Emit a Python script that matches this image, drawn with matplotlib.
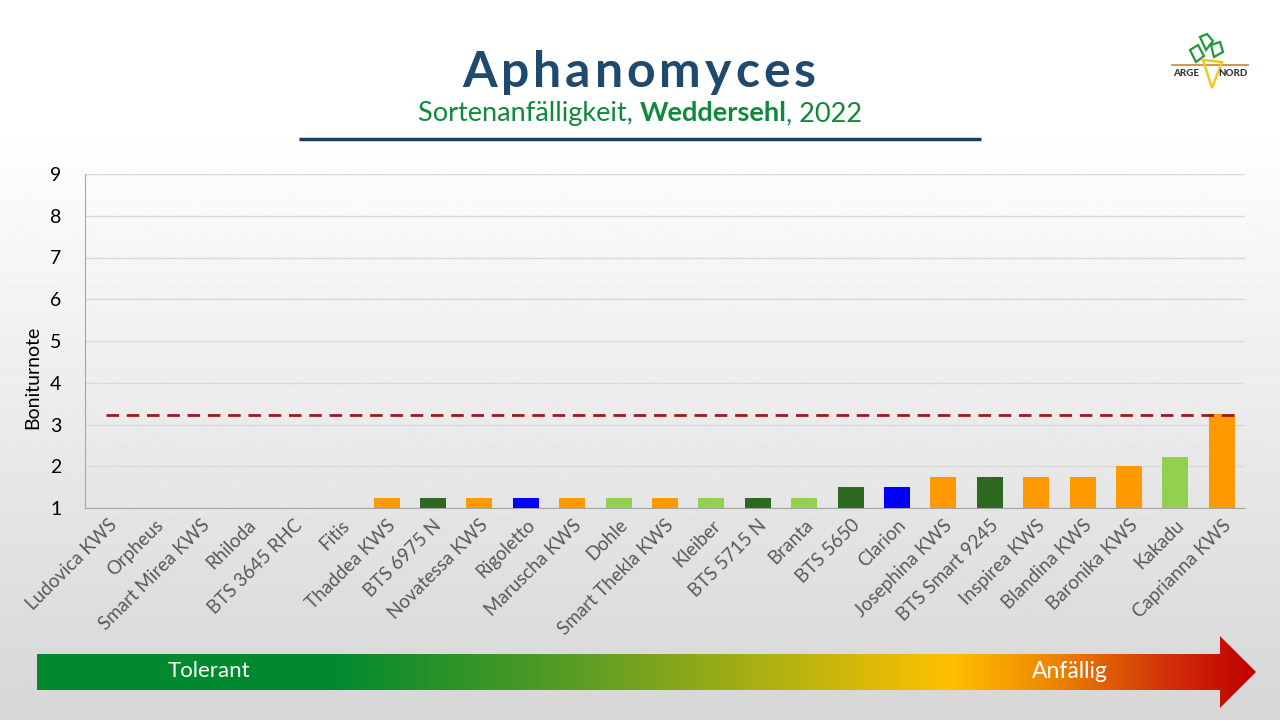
import numpy as np
import matplotlib.pyplot as plt
from matplotlib.colors import LinearSegmentedColormap
from matplotlib.patches import Polygon

# Daten
sorten = ['Ludovica KWS', 'Orpheus', 'Smart Mirea KWS', 'Rhiloda', 'BTS 3645 RHC',
          'Fitis', 'Thaddea KWS', 'BTS 6975 N', 'Novatessa KWS', 'Rigoletto',
          'Maruscha KWS', 'Dohle', 'Smart Thekla KWS', 'Kleiber', 'BTS 5715 N',
          'Branta', 'BTS 5650', 'Clarion', 'Josephina KWS', 'BTS Smart 9245',
          'Inspirea KWS', 'Blandina KWS', 'Baronika KWS', 'Kakadu', 'Caprianna KWS']
boniturnote = [1, 1, 1, 1, 1, 1, 1.25, 1.25, 1.25, 1.25, 1.25, 1.25, 1.25, 1.25,
               1.25, 1.25, 1.5, 1.5, 1.75, 1.75, 1.75, 1.75, 2.0, 2.23, 3.25]
zuechter = ['KWS', 'Strube', 'KWS', 'SES', 'Betaseed', 'Strube', 'KWS', 'Betaseed',
            'KWS', 'SES', 'KWS', 'Strube', 'KWS', 'Strube', 'Betaseed', 'Strube',
            'Betaseed', 'SES', 'KWS', 'Betaseed', 'KWS', 'KWS', 'KWS', 'Strube', 'KWS']
schwelle = 3.23
yticks = list(range(1, 10))

farbe_zuechter = {'KWS': '#FF9900', 'Betaseed': '#2D6A1F', 'SES': '#0000FF', 'Strube': '#92D050'}
farben = [farbe_zuechter[z] for z in zuechter]

W, H = 1280, 720
fig = plt.figure(figsize=(12.8, 7.2), dpi=100)
plt.rcParams['font.family'] = ['Lato', 'DejaVu Sans']

# Hintergrund + Deko in Pixelkoordinaten
bg = fig.add_axes([0, 0, 1, 1])
bg.set_xlim(0, W)
bg.set_ylim(H, 0)
bg.axis('off')
yy = np.linspace(0, 1, 300)
grau = np.where(yy < 0.17, 1.0, 1.0 - (yy - 0.17) / 0.83 * 0.16)
bg.imshow(np.tile(grau[:, None], (1, 2)), cmap='gray', vmin=0, vmax=1,
          extent=[0, W, H, 0], aspect='auto', zorder=0)

# Pfeil mit Farbverlauf
pfeil_cmap = LinearSegmentedColormap.from_list('pfeil', [
    (0.0, '#00892F'), (0.24, '#00892F'), (0.45, '#5E9E22'), (0.62, '#B8B312'),
    (0.75, '#FFC000'), (0.83, '#EE8A00'), (0.93, '#D0300A'), (1.0, '#C00000')])
pfeil = Polygon([(37, 654), (1220, 654), (1220, 636), (1256, 672), (1220, 708),
                 (1220, 690), (37, 690)], closed=True, facecolor='none', edgecolor='none')
bg.add_patch(pfeil)
img = bg.imshow(np.linspace(0, 1, 512)[None, :], cmap=pfeil_cmap,
                extent=[37, 1256, 708, 636], aspect='auto', zorder=1)
img.set_clip_path(pfeil)
bg.text(209, 671, 'Tolerant', color='white', fontsize=16, ha='center', va='center', zorder=2)
bg.text(1070, 671, 'Anfällig', color='white', fontsize=16.5, ha='center', va='center', zorder=2)

# Titel mit Sperrung
fig.canvas.draw()
renderer = fig.canvas.get_renderer()
titel = 'Aphanomyces'
sperr = 4.0
breiten = []
for ch in titel:
    t = bg.text(0, 0, ch, fontsize=36, fontweight='bold')
    breiten.append(t.get_window_extent(renderer).width)
    t.remove()
x = 639 - (sum(breiten) + sperr * (len(titel) - 1)) / 2
for ch, b in zip(titel, breiten):
    bg.text(x, 87, ch, fontsize=36, fontweight='bold', color='#1F4A6E',
            ha='left', va='baseline', zorder=3)
    x += b + sperr

# Untertitel mit fettem Ortsnamen
teile = [('Sortenanfälligkeit, ', 'normal'), ('Weddersehl', 'bold'), (', 2022', 'normal')]
breiten = []
for s, w in teile:
    t = bg.text(0, 0, s, fontsize=19.5, fontweight=w)
    breiten.append(t.get_window_extent(renderer).width)
    t.remove()
x = 640 - sum(breiten) / 2
for (s, w), b in zip(teile, breiten):
    bg.text(x, 121, s, fontsize=19.5, fontweight=w, color='#0E8A3A',
            ha='left', va='baseline', zorder=3)
    x += b
bg.plot([299, 981], [138.5, 138.5], color='#1F3E64', lw=2.5, solid_capstyle='butt', zorder=3)

# Logo (vereinfacht)
bg.plot([1172, 1248], [65, 65], color='#C8843C', lw=1.2, zorder=3)
bg.add_patch(Polygon([(1200, 37), (1207, 34), (1213, 41), (1206, 50)], closed=True,
                     facecolor='none', edgecolor='#1E9A3A', lw=1.6, zorder=4))
bg.add_patch(Polygon([(1190, 50), (1198, 45), (1204, 56), (1196, 62)], closed=True,
                     facecolor='none', edgecolor='#1E9A3A', lw=1.6, zorder=4))
bg.add_patch(Polygon([(1211, 45), (1220, 42), (1223, 52), (1214, 57)], closed=True,
                     facecolor='none', edgecolor='#1E9A3A', lw=1.6, zorder=4))
bg.add_patch(Polygon([(1203, 60), (1222, 62), (1212, 88)], closed=True,
                     facecolor='none', edgecolor='#F2C81E', lw=1.8, zorder=4))
bg.text(1186, 74, 'ARGE', fontsize=7, fontweight='black', color='#333333',
        ha='center', va='center', zorder=4)
bg.text(1233, 74, 'NORD', fontsize=7, fontweight='black', color='#333333',
        ha='center', va='center', zorder=4)

# Diagramm
ax = fig.add_axes([85 / W, 1 - 508 / H, 1160 / W, (508 - 174) / H])
ax.set_facecolor('none')
pos = np.arange(len(sorten))
ax.bar(pos, boniturnote, width=0.56, color=farben, zorder=3)
ax.plot([pos[0] - 0.05, pos[-1] + 0.4], [schwelle, schwelle], color='#9E1A1A',
        lw=2, dashes=(4.5, 2.8), zorder=4)
ax.set_xlim(-0.5, len(sorten) - 0.5)
ax.set_ylim(1, 9)
ax.set_yticks(yticks)
ax.tick_params(axis='y', length=0, labelsize=14, pad=17, labelcolor='black')
ax.tick_params(axis='x', length=0, pad=6)
ax.set_xticks(pos)
ax.set_xticklabels(sorten, rotation=45, ha='right', rotation_mode='anchor',
                   fontsize=13.5, color='#595959')
ax.grid(axis='y', color='#D9D9D9', lw=1, zorder=0)
for s in ['top', 'right']:
    ax.spines[s].set_visible(False)
ax.spines['left'].set_color('#A6A6A6')
ax.spines['bottom'].set_color('#A6A6A6')
ax.set_ylabel('Boniturnote', fontsize=14, color='black')
ax.yaxis.set_label_coords(-0.038, 0.39)

fig.savefig('out.png', dpi=100)
